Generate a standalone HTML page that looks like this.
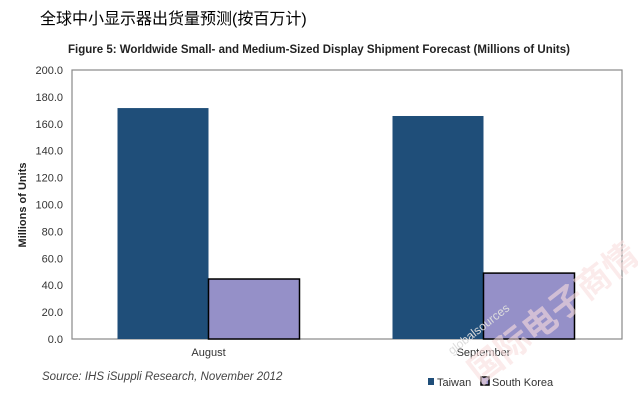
<!DOCTYPE html>
<html><head><meta charset="utf-8"><style>
body{margin:0;background:#fff;width:638px;height:400px;overflow:hidden;font-family:"Liberation Sans",sans-serif}
</style></head><body>
<svg width="638" height="400" xmlns="http://www.w3.org/2000/svg">
<text x="40" y="24" font-size="16" font-family="'Liberation Sans','Noto Sans CJK SC',sans-serif" fill="#000">全球中小显示器出货量预测(按百万计)</text>
<text x="319" y="53" font-size="11.5" font-weight="bold" text-anchor="middle" fill="#222">Figure 5: Worldwide Small- and Medium-Sized Display Shipment Forecast (Millions of Units)</text>
<rect x="72" y="70" width="550" height="269" fill="none" stroke="#888" stroke-width="1.2"/>
<g id="yticks"></g>
<g id="bars"></g>
<g id="xlabels"></g>
<text transform="translate(26,205) rotate(-90)" font-size="11" font-weight="bold" text-anchor="middle" fill="#222">Millions of Units</text>
<text x="42" y="380" font-size="11.5" font-style="italic" fill="#444">Source: IHS iSuppli Research, November 2012</text>
<g>
<rect x="428" y="378" width="6" height="7" fill="#1f4e79"/>
<text x="437" y="386" font-size="11" fill="#333">Taiwan</text>
<rect x="481" y="377" width="8" height="8" fill="#9590c8" stroke="#000" stroke-width="1.5"/>
<text x="492" y="386" font-size="11" fill="#333">South Korea</text>
</g>
<text transform="translate(452,355) rotate(-38)" font-size="12" fill="#ddd">globalsources</text>
<text transform="translate(480,385) rotate(-38)" font-size="34" font-weight="bold" fill="#f9dede" opacity="0.6" font-family="'Noto Sans CJK SC',sans-serif">国际电子商情</text>
</svg>
<script>
const categories=["August","September"];
const taiwan=[171.7,165.8];
const southKorea=[44.6,49.0];
const yTicks=[0,20,40,60,80,100,120,140,160,180,200];
const ns="http://www.w3.org/2000/svg";
const x0=72,pw=550,yb=339,ph=269,ymax=200;
function ys(v){return yb-v/ymax*ph;}
function xc(i){return x0+pw/categories.length*(i+0.5);}
const gy=document.getElementById('yticks'),gb=document.getElementById('bars'),gx=document.getElementById('xlabels');
yTicks.forEach(t=>{const e=document.createElementNS(ns,'text');


e.setAttribute('x',63);e.setAttribute('y',ys(t)+4);e.setAttribute('font-size','11');e.setAttribute('text-anchor','end');e.setAttribute('fill','#333');e.textContent=t.toFixed(1);gy.appendChild(e);});
const bw=91;
categories.forEach((c,i)=>{const cx=xc(i)-1;
const a=document.createElementNS(ns,'rect');


a.setAttribute('x',cx-bw);a.setAttribute('y',ys(taiwan[i]));a.setAttribute('width',bw);a.setAttribute('height',yb-ys(taiwan[i]));a.setAttribute('fill','#1f4e79');gb.appendChild(a);
const b=document.createElementNS(ns,'rect');


b.setAttribute('x',cx);b.setAttribute('y',ys(southKorea[i]));b.setAttribute('width',bw);b.setAttribute('height',yb-ys(southKorea[i]));b.setAttribute('fill','#9590c8');b.setAttribute('stroke','#000');b.setAttribute('stroke-width','1.5');gb.appendChild(b);
const l=document.createElementNS(ns,'text');


l.setAttribute('x',cx);l.setAttribute('y',356);l.setAttribute('font-size','11');l.setAttribute('text-anchor','middle');l.setAttribute('fill','#333');l.textContent=c;gx.appendChild(l);});
</script>
</body></html>
